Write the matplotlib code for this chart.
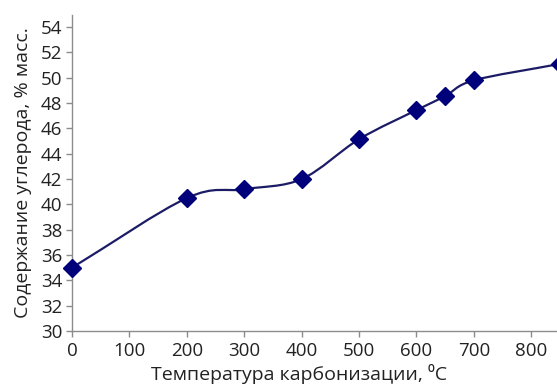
import numpy as np
import matplotlib
matplotlib.use("Agg")
import matplotlib.pyplot as plt
from matplotlib.path import Path
from matplotlib.patches import PathPatch

plt.rcParams['font.family'] = ['Open Sans', 'DejaVu Sans']

temperature = [0, 200, 300, 400, 500, 600, 650, 700, 850]
carbon = [35.0, 40.5, 41.2, 42.0, 45.15, 47.45, 48.55, 49.8, 51.1]
x_ticks = [0, 100, 200, 300, 400, 500, 600, 700, 800]
y_ticks = list(range(30, 55, 2))

line_color = '#1c1c66'
marker_color = '#00007a'
axis_color = '#8c8c8c'
text_color = '#222222'

fig = plt.figure(figsize=(5.57, 3.85), dpi=100)
ax = fig.add_axes([72 / 557, 54 / 385, 488 / 557, 316.5 / 385])

# сглаженная линия (как в Excel): сплайн Катмулла-Рома через кривые Безье
pts = np.column_stack([temperature, carbon]).astype(float)
ext = np.vstack([2 * pts[0] - pts[1], pts, 2 * pts[-1] - pts[-2]])
verts = [tuple(pts[0])]
codes = [Path.MOVETO]
for i in range(1, len(ext) - 2):
    p0, p1, p2, p3 = ext[i - 1], ext[i], ext[i + 1], ext[i + 2]
    c1 = p1 + (p2 - p0) / 6
    c2 = p2 - (p3 - p1) / 6
    verts += [tuple(c1), tuple(c2), tuple(p2)]
    codes += [Path.CURVE4] * 3
ax.add_patch(PathPatch(Path(verts, codes), facecolor='none',
                       edgecolor=line_color, linewidth=1.6, zorder=2))

ax.plot(temperature, carbon, linestyle='none', marker='D', markersize=9.5,
        color=marker_color, zorder=3, clip_on=False)

ax.set_xlim(0, 850)
ax.set_ylim(30, 55)
ax.set_xticks(x_ticks)
ax.set_yticks(y_ticks)

for side in ['top', 'right']:
    ax.spines[side].set_visible(False)
for side in ['left', 'bottom']:
    ax.spines[side].set_color(axis_color)
    ax.spines[side].set_linewidth(1.0)
ax.tick_params(axis='both', direction='out', length=4.5, width=1.0,
               color=axis_color, labelsize=13.5, labelcolor=text_color)
ax.tick_params(axis='x', pad=3.5)
ax.tick_params(axis='y', pad=2.5)

ax.set_xlabel('Температура карбонизации, ⁰C', fontsize=14, color=text_color)
ax.set_ylabel('Содержание углерода, % масс.', fontsize=14, color=text_color)
ax.xaxis.set_label_coords((299 - 72) / 488, -(364 - 331) / 316.5)
ax.yaxis.set_label_coords(-(72 - 32) / 488, 0.5)

fig.savefig('out.png', dpi=100)
